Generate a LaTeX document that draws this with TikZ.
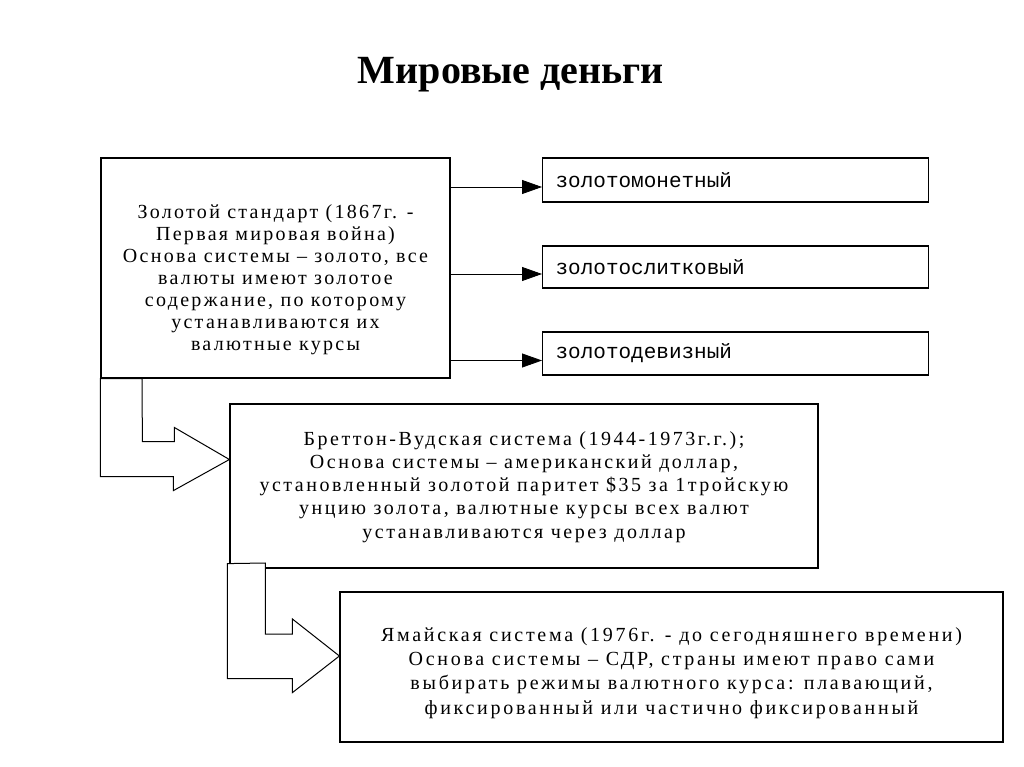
\documentclass[tikz,border=0pt]{standalone}
\usepackage{fontspec}
\setmainfont{Liberation Serif}
\setmonofont{Liberation Mono}
\usetikzlibrary{arrows.meta}

\begin{document}
\begin{tikzpicture}[x=1pt,y=-1pt,
  box/.style={draw,line width=1.2pt,inner sep=0pt},
  boxtext/.style 2 args={align=center,inner sep=0pt,font=\fontsize{20}{#1}\selectfont\addfontfeature{LetterSpace=#2}},
  kind/.style={draw,line width=1.2pt,anchor=west,align=left,inner xsep=13pt,text width=360pt,font=\ttfamily\fontsize{21}{22}\selectfont},
  conn/.style={line width=0.8pt,-{Triangle[length=20pt,width=14pt]}},
  blockarrow/.style={draw,fill=white,line width=1pt,line join=miter}]
\useasboundingbox (0,0) rectangle (1024,767);
\node[font=\fontsize{40}{42}\selectfont\bfseries] (title) at (511,75) {Мировые деньги};
\node[box,minimum width=349pt,minimum height=220pt] (gold) at (275.5,268) {};
\node[boxtext={22}{11.5}] (goldtext) at ([yshift=-12pt]gold.center) {Золотой стандарт (1867г. -\\Первая мировая война)\\Основа системы -- золото, все\\валюты имеют золотое\\содержание, по которому\\устанавливаются их\\валютные курсы};
\node[kind,minimum height=44pt] (coin) at (542,180) {золотомонетный};
\node[kind,minimum height=42pt] (bullion) at (542,267) {золотослитковый};
\node[kind,minimum height=43pt] (exchange) at (542,353.5) {золотодевизный};
\coordinate (a1) at ([yshift=-7pt]coin.west);
\coordinate (a2) at ([yshift=-7pt]bullion.west);
\coordinate (a3) at ([yshift=-7pt]exchange.west);
\draw[conn] (gold.east |- a1) -- (a1);
\draw[conn] (gold.east |- a2) -- (a2);
\draw[conn] (gold.east |- a3) -- (a3);
\node[box,minimum width=588pt,minimum height=164pt] (bretton) at (524,486) {};
\node[boxtext={23.2}{12.5}] (brettontext) at ([yshift=-1pt]bretton.center) {Бреттон-Вудская система (1944-1973г.г.);\\Основа системы -- американский доллар,\\установленный золотой паритет \$35 за 1тройскую\\унцию золота, валютные курсы всех валют\\устанавливаются через доллар};
\node[box,minimum width=663pt,minimum height=150pt] (jamaica) at (671.5,667) {};
\node[boxtext={24.2}{13.5}] (jamaicatext) at ([yshift=-6pt]jamaica.center) {Ямайская система (1976г. - до сегодняшнего времени)\\Основа системы -- СДР, страны имеют право сами\\выбирать режимы валютного курса: плавающий,\\фиксированный или частично фиксированный};
\draw[blockarrow] (gold.south west) -- ++(0,98) -- ++(73,0) -- ++(0,14) -- ([yshift=26.5pt]bretton.west) -- ++(-55,-32) -- ++(0,14) -- ++(-32,0) -- (gold.south west -| 142,0) -- cycle;
\draw[blockarrow] ([shift={(-2,-5)}]bretton.south west) -- ++(0,115) -- ++(65,0) -- ++(0,14) -- ([yshift=11pt]jamaica.west) -- ++(-47,-37) -- ++(0,15) -- ++(-27,0) -- ++(0,-71) -- cycle;
\end{tikzpicture}
\end{document}
